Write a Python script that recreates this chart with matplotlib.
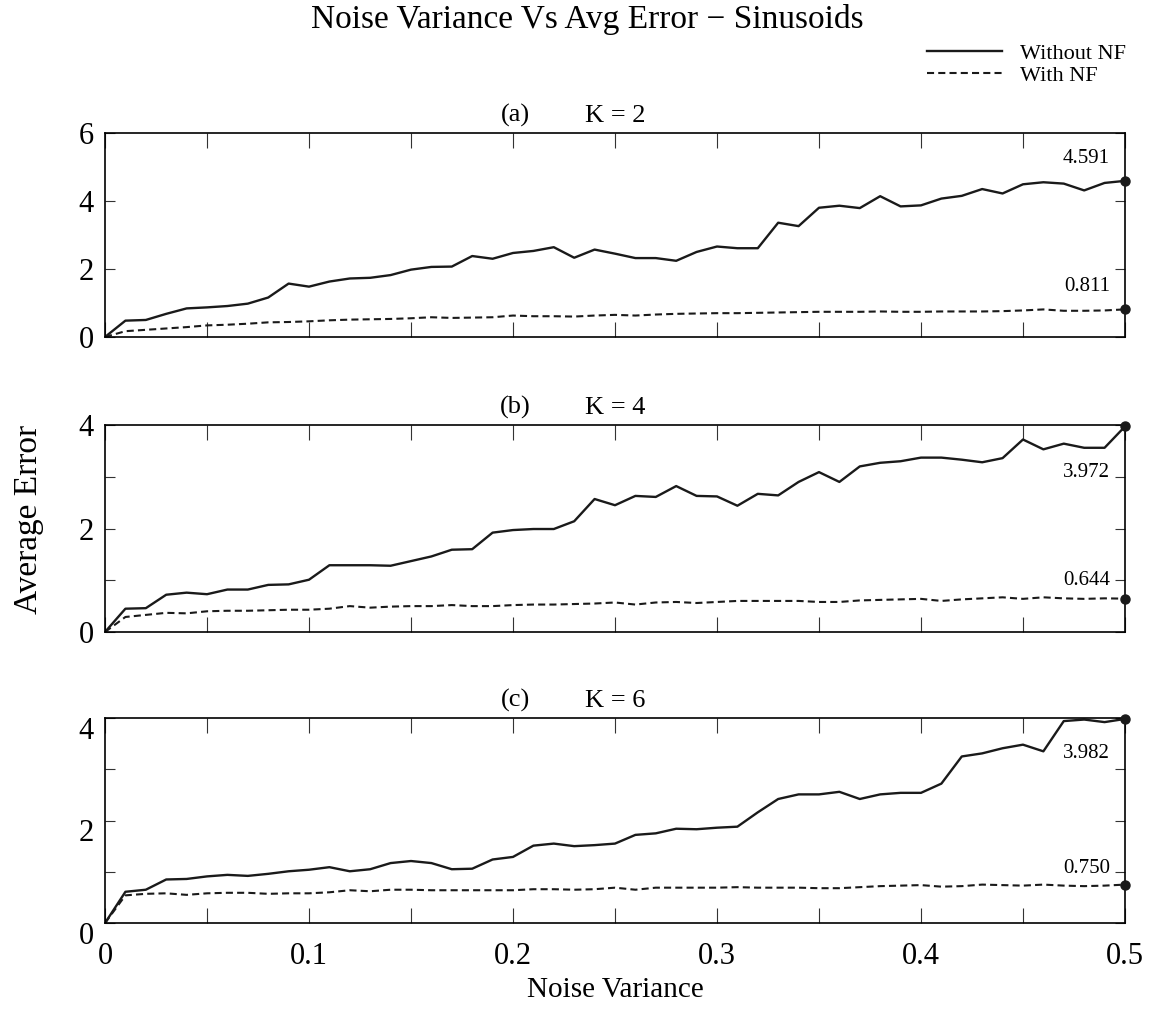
import numpy as np
import matplotlib
matplotlib.use("Agg")
import matplotlib.pyplot as plt
import matplotlib.transforms as mtransforms
from matplotlib.ticker import MultipleLocator, FuncFormatter

plt.rcParams["font.family"] = ["Liberation Serif", "DejaVu Serif"]

# noise variance steps 0 .. 0.5
noise_var = np.round(np.arange(0, 0.501, 0.01), 2)

# K = 2
err_k2_without = [0, 0.48, 0.50, 0.68, 0.84, 0.87, 0.91, 0.98, 1.16, 1.57,
                  1.48, 1.63, 1.72, 1.74, 1.82, 1.98, 2.06, 2.07, 2.38, 2.30,
                  2.47, 2.53, 2.64, 2.33, 2.57, 2.45, 2.32, 2.32, 2.24, 2.50,
                  2.66, 2.61, 2.61, 3.36, 3.26, 3.80, 3.86, 3.79, 4.14, 3.84,
                  3.87, 4.07, 4.15, 4.35, 4.22, 4.49, 4.55, 4.51, 4.31, 4.53, 4.591]
err_k2_with = [0, 0.17, 0.21, 0.25, 0.29, 0.34, 0.36, 0.39, 0.43, 0.44,
               0.46, 0.49, 0.51, 0.52, 0.53, 0.55, 0.58, 0.56, 0.57, 0.58,
               0.63, 0.61, 0.61, 0.60, 0.63, 0.65, 0.63, 0.66, 0.68, 0.69,
               0.70, 0.70, 0.71, 0.72, 0.73, 0.74, 0.74, 0.74, 0.75, 0.74,
               0.74, 0.75, 0.75, 0.75, 0.76, 0.78, 0.81, 0.77, 0.77, 0.78, 0.811]

# K = 4
err_k4_without = [0, 0.45, 0.46, 0.72, 0.76, 0.73, 0.82, 0.82, 0.91, 0.92,
                  1.01, 1.29, 1.29, 1.29, 1.28, 1.37, 1.46, 1.59, 1.60, 1.92,
                  1.97, 1.99, 1.99, 2.14, 2.57, 2.45, 2.63, 2.61, 2.82, 2.63,
                  2.62, 2.44, 2.67, 2.64, 2.90, 3.09, 2.90, 3.20, 3.27, 3.30,
                  3.37, 3.37, 3.33, 3.28, 3.36, 3.72, 3.53, 3.64, 3.56, 3.56, 3.972]
err_k4_with = [0, 0.29, 0.33, 0.37, 0.36, 0.40, 0.41, 0.41, 0.42, 0.43,
               0.43, 0.45, 0.50, 0.47, 0.49, 0.50, 0.50, 0.52, 0.50, 0.50,
               0.52, 0.53, 0.53, 0.54, 0.55, 0.57, 0.53, 0.57, 0.58, 0.56,
               0.58, 0.60, 0.60, 0.60, 0.60, 0.58, 0.58, 0.61, 0.62, 0.63,
               0.64, 0.60, 0.63, 0.65, 0.67, 0.64, 0.67, 0.65, 0.64, 0.65, 0.644]

# K = 6
err_k6_without = [0, 0.61, 0.65, 0.85, 0.86, 0.91, 0.94, 0.92, 0.96, 1.01,
                  1.04, 1.09, 1.01, 1.05, 1.17, 1.21, 1.17, 1.05, 1.06, 1.24,
                  1.29, 1.51, 1.55, 1.50, 1.52, 1.55, 1.72, 1.75, 1.84, 1.83,
                  1.86, 1.88, 2.16, 2.42, 2.51, 2.51, 2.56, 2.42, 2.51, 2.54,
                  2.54, 2.72, 3.25, 3.31, 3.41, 3.48, 3.35, 3.94, 3.97, 3.92, 3.982]
err_k6_with = [0, 0.54, 0.57, 0.58, 0.55, 0.58, 0.59, 0.59, 0.57, 0.58,
               0.58, 0.60, 0.64, 0.62, 0.65, 0.65, 0.64, 0.64, 0.64, 0.64,
               0.64, 0.66, 0.66, 0.65, 0.66, 0.69, 0.65, 0.69, 0.69, 0.69,
               0.69, 0.70, 0.69, 0.69, 0.69, 0.68, 0.68, 0.70, 0.72, 0.73,
               0.74, 0.71, 0.72, 0.75, 0.74, 0.73, 0.75, 0.73, 0.72, 0.73, 0.750]

panel_tags = ["(a)", "(b)", "(c)"]
k_labels = ["K = 2", "K = 4", "K = 6"]
without_nf = [err_k2_without, err_k4_without, err_k6_without]
with_nf = [err_k2_with, err_k4_with, err_k6_with]
y_max = [6, 4, 4]
y_step = [2, 1, 1]

# where the end value labels sit (data y)
label_y_without = [5.26, 3.09, 3.30]
label_y_with = [1.47, 1.00, 1.07]

fig = plt.figure(figsize=(11.63, 10.11), dpi=100)
rects = [
    [0.0903, 0.6667, 0.8770, 0.2018],
    [0.0903, 0.3749, 0.8770, 0.2047],
    [0.0903, 0.0870, 0.8770, 0.2028],
]

dash = (0, (3.4, 2.0))
for i, rect in enumerate(rects):
    ax = fig.add_axes(rect)
    l1, = ax.plot(noise_var, without_nf[i], color="#1a1a1a", lw=1.7,
                  label="Without NF")
    l2, = ax.plot(noise_var, with_nf[i], color="#1a1a1a", lw=1.5,
                  linestyle=dash, label="With NF")
    ax.plot([noise_var[-1]], [without_nf[i][-1]], "o", color="#1a1a1a",
            ms=6.5, clip_on=False, zorder=5)
    ax.plot([noise_var[-1]], [with_nf[i][-1]], "o", color="#1a1a1a",
            ms=6.5, clip_on=False, zorder=5)
    ax.text(0.4926, label_y_without[i], "%.3f" % without_nf[i][-1],
            ha="right", va="center", fontsize=15)
    ax.text(0.4926, label_y_with[i], "%.3f" % with_nf[i][-1],
            ha="right", va="center", fontsize=15)

    ax.set_xlim(0, 0.5)
    ax.set_ylim(0, y_max[i])
    ax.xaxis.set_major_locator(MultipleLocator(0.05))
    ax.yaxis.set_major_locator(MultipleLocator(y_step[i]))
    ax.yaxis.set_major_formatter(
        FuncFormatter(lambda v, p: "%d" % v if abs(v % 2) < 1e-6 else ""))
    if i == 2:
        ax.xaxis.set_major_formatter(
            FuncFormatter(lambda v, p: ("0" if v == 0 else "%g" % round(v, 2))
                          if abs(round(v * 20)) % 2 == 0 else ""))
        ax.set_xlabel("Noise Variance", fontsize=21, labelpad=4)
    else:
        ax.xaxis.set_major_formatter(FuncFormatter(lambda v, p: ""))
    ax.tick_params(axis="x", direction="in", length=11, width=0.8,
                   top=True, bottom=True, labelsize=22, pad=14, color="#333333")
    ax.tick_params(axis="y", direction="in", length=7.5, width=0.8,
                   left=True, right=True, labelsize=22, pad=8, color="#333333")
    if i == 2:
        shift = mtransforms.ScaledTranslation(0, -7 / 72, fig.dpi_scale_trans)
        for lab in ax.get_yticklabels():
            lab.set_transform(lab.get_transform() + shift)
    for s in ax.spines.values():
        s.set_linewidth(1.2)

    ax.annotate(panel_tags[i], xy=(0.402, 1.0), xycoords="axes fraction",
                xytext=(0, 8), textcoords="offset points",
                ha="center", va="baseline", fontsize=19)
    ax.annotate(k_labels[i], xy=(0.4706, 1.0), xycoords="axes fraction",
                xytext=(0, 8), textcoords="offset points",
                ha="left", va="baseline", fontsize=19)

fig.text(0.025, 0.486, "Average Error", rotation=90, ha="center",
         va="center", fontsize=24)
fig.suptitle("Noise Variance Vs Avg Error \u2212 Sinusoids", x=0.505,
             y=0.996, va="top", fontsize=24)
fig.legend(handles=[l1, l2], loc="upper left", bbox_to_anchor=(0.797, 0.957),
           frameon=False, fontsize=16, handlelength=3.4, handletextpad=0.8,
           borderpad=0, borderaxespad=0, labelspacing=0.05)

fig.savefig("out.png", dpi=100)
